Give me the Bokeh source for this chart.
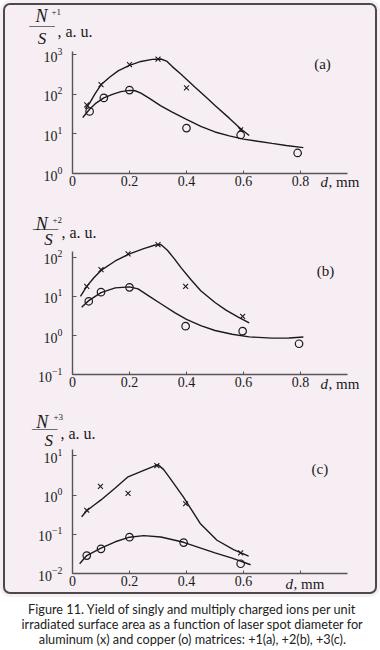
from bokeh.plotting import figure
from bokeh.layouts import column
from bokeh.models import (Label, FixedTicker, LogTickFormatter, Range1d, LinearAxis,
                          LogAxis, LogScale, LinearScale)
from bokeh.embed import file_html
from bokeh.resources import INLINE

# ---------------- data ----------------
x_ticks = [0, 0.2, 0.4, 0.6, 0.8]

# (a) N+1/S
al1_d = [0.05, 0.10, 0.20, 0.30, 0.40, 0.59]
al1_y = [54, 175, 560, 775, 145, 12.6]
cu1_d = [0.06, 0.11, 0.20, 0.40, 0.59, 0.79]
cu1_y = [37, 81, 128, 14, 9.4, 3.3]
al1_fit_d = [0.045, 0.06, 0.08, 0.10, 0.13, 0.16, 0.20, 0.24, 0.28, 0.31, 0.33, 0.35, 0.38, 0.43, 0.47, 0.50, 0.55, 0.59, 0.62]
al1_fit_y = [43, 60, 105, 174, 270, 390, 540, 675, 760, 780, 690, 500, 324, 150, 83, 52, 25, 13.5, 9.1]
cu1_fit_d = [0.036, 0.06, 0.08, 0.11, 0.14, 0.17, 0.20, 0.22, 0.24, 0.27, 0.31, 0.35, 0.40, 0.45, 0.50, 0.55, 0.60, 0.65, 0.70, 0.75, 0.81]
cu1_fit_y = [26, 42, 58, 81, 100, 117, 126, 123, 107, 79, 51, 35.5, 23.4, 15.5, 11.2, 8.9, 7.4, 6.5, 5.75, 5.1, 4.5]

# (b) N+2/S
al2_d = [0.05, 0.10, 0.195, 0.30, 0.397, 0.597]
al2_y = [18, 48, 122, 210, 18, 3.1]
cu2_d = [0.057, 0.10, 0.20, 0.397, 0.597, 0.795]
cu2_y = [7.5, 12.8, 17, 1.74, 1.3, 0.62]
al2_fit_d = [0.028, 0.05, 0.075, 0.10, 0.15, 0.20, 0.25, 0.29, 0.31, 0.333, 0.357, 0.38, 0.415, 0.45, 0.50, 0.54, 0.58, 0.62]
al2_fit_y = [10, 18, 30, 46, 80, 122, 165, 205, 210, 150, 92, 55, 27, 14, 7, 4.4, 3, 2.1]
cu2_fit_d = [0.032, 0.057, 0.10, 0.15, 0.20, 0.23, 0.27, 0.31, 0.36, 0.40, 0.45, 0.50, 0.56, 0.62, 0.70, 0.76, 0.81]
cu2_fit_y = [5.3, 7.8, 12.5, 16.5, 17.5, 15.5, 10, 6.5, 3.8, 2.6, 1.8, 1.35, 1.08, 0.93, 0.86, 0.87, 0.92]

# (c) N+3/S
al3_d = [0.05, 0.098, 0.195, 0.296, 0.397, 0.59]
al3_y = [0.41, 1.65, 1.1, 5.6, 0.6, 0.034]
cu3_d = [0.05, 0.10, 0.20, 0.39, 0.59]
cu3_y = [0.029, 0.043, 0.085, 0.062, 0.018]
al3_fit_d = [0.032, 0.05, 0.075, 0.10, 0.15, 0.195, 0.25, 0.30, 0.32, 0.34, 0.39, 0.448, 0.507, 0.565, 0.618]
al3_fit_y = [0.28, 0.40, 0.55, 0.75, 1.5, 2.9, 4.2, 5.9, 4.4, 2.8, 0.87, 0.19, 0.071, 0.041, 0.028]
cu3_fit_d = [0.025, 0.05, 0.10, 0.15, 0.20, 0.25, 0.31, 0.39, 0.45, 0.50, 0.56, 0.625]
cu3_fit_y = [0.018, 0.029, 0.045, 0.065, 0.085, 0.093, 0.086, 0.063, 0.045, 0.034, 0.025, 0.017]

caption_lines = [
    "Figure 11. Yield of singly and multiply charged ions per unit",
    "irradiated surface area as a function of laser spot diameter for",
    "aluminum (x) and copper (o) matrices: +1(a), +2(b), +3(c).",
]

# ---------------- style / layout ----------------
SERIF = "Liberation Serif"
INK = "#1a1a1a"
AXIS = "#555555"
BG = "#f6eef3"
W = 380
X0 = 72.0        # pixel of d = 0
XPU = 285.0      # pixels per mm
XEND = 0.965     # x axis line end (mm)


def panel(top, h, ax_y, dec_px, ylo_exp, ytop_exp, yticks, al, cu, alf, cuf,
          hide_08, sup, texts):
    """top/h: canvas position of this panel on the page; ax_y: page y of x axis."""
    bottom = top + h
    lo = ylo_exp - (bottom - ax_y) / dec_px
    hi = ylo_exp + (ax_y - top) / dec_px
    p = figure(width=W, height=h,
               x_range=Range1d(-X0 / XPU, (W - X0) / XPU),
               y_range=Range1d(10 ** lo, 10 ** hi),
               x_axis_location=None, y_axis_location=None, output_backend="svg",
               toolbar_location=None, tools="", min_border=0,
               background_fill_alpha=0, border_fill_alpha=0, outline_line_color=None)
    p.x_scale = LinearScale()
    p.y_scale = LogScale()
    p.grid.visible = False
    xa = LinearAxis(fixed_location=10 ** ylo_exp, bounds=(0, XEND))
    ya = LogAxis(fixed_location=0, bounds=(10 ** ylo_exp, 10 ** ytop_exp))
    p.add_layout(xa, "below")
    p.add_layout(ya, "left")
    for ax in (xa, ya):
        ax.axis_line_color = AXIS
        ax.axis_line_width = 1.4
        ax.major_tick_line_color = AXIS
        ax.major_tick_out = 0
        ax.minor_tick_line_color = None
        ax.major_label_text_font = SERIF
        ax.major_label_text_color = INK
    xa.ticker = FixedTicker(ticks=x_ticks)
    xa.major_tick_in = 3
    xa.major_label_standoff = 2
    xa.major_label_text_font_size = "14px"
    ov = {0: "0", 0.2: "0.2", 0.4: "0.4", 0.6: "0.6", 0.8: "0.8"}
    if hide_08:
        ov[0.8] = ""
    xa.major_label_overrides = ov
    ya.ticker = FixedTicker(ticks=yticks)
    ya.formatter = LogTickFormatter()
    ya.major_tick_in = 4
    ya.major_label_standoff = 10
    ya.major_label_text_font_size = "14px"

    p.line(alf[0], alf[1], line_color=INK, line_width=1.4)
    p.line(cuf[0], cuf[1], line_color=INK, line_width=1.4)
    p.scatter(al[0], al[1], marker="x", size=7, line_color=INK, line_width=1.1)
    p.scatter(cu[0], cu[1], marker="circle", size=7.5, fill_color=None,
              line_color=INK, line_width=1.2)

    def lab(px, py, text, size, style="normal", font=SERIF, align="left"):
        p.add_layout(Label(x=px, y=bottom - py, x_units="screen", y_units="screen",
                           text=text, text_font=font, text_font_size=f"{size}px",
                           text_font_style=style, text_align=align,
                           text_baseline="middle", text_color=INK))

    (nx, ny), (spx, spy), (bx, by), (sx, sy), (fx, fy), (tx, ty, tag), (dx, dy) = texts
    lab(nx, ny, "N", 18, "italic", align="center")
    lab(spx, spy, sup, 9)
    lab(bx, by, "──────", 7, font="DejaVu Sans Mono", align="center")
    lab(sx, sy, "S", 17, "italic", align="center")
    lab(fx, fy, ", a. u.", 16)
    lab(tx, ty, tag, 15, align="center")
    lab(dx, dy, "d", 15, "italic")
    lab(dx + 8, dy, ", mm", 15)
    return p


pa = panel(0, 200, 173, 39.6, 0, 3.08, [1, 10, 100, 1000],
           (al1_d, al1_y), (cu1_d, cu1_y), (al1_fit_d, al1_fit_y), (cu1_fit_d, cu1_fit_y),
           False, "+1",
           [(41, 15), (51, 11), (41.5, 26), (41.5, 38.3), (57, 31), (322, 63.3, "(a)"),
            (320, 181)])
pb = panel(200, 200, 374.3, 39.2, -1, 2.15, [0.1, 1, 10, 100],
           (al2_d, al2_y), (cu2_d, cu2_y), (al2_fit_d, al2_fit_y), (cu2_fit_d, cu2_fit_y),
           False, "+2",
           [(41.3, 223.3), (52, 219), (45, 229.3), (48, 239.3), (61, 232),
            (325, 270, "(b)"), (320, 383.3)])
pc = panel(400, 197, 573.3, 39.4, -2, 1.15, [0.01, 0.1, 1, 10],
           (al3_d, al3_y), (cu3_d, cu3_y), (al3_fit_d, al3_fit_y), (cu3_fit_d, cu3_fit_y),
           True, "+3",
           [(41.7, 421.7), (53, 416), (44.2, 429.3), (48.3, 440), (60, 433),
            (319.3, 468.3, "(c)"), (285, 583.3)])

cap = figure(width=W, height=53, x_axis_location=None, y_axis_location=None,
             output_backend="svg", toolbar_location=None, tools="", min_border=0,
             outline_line_color=None, x_range=Range1d(0, 1), y_range=Range1d(0, 1))
cap.grid.visible = False
for i, line in enumerate(caption_lines):
    cap.add_layout(Label(x=192, y=42 - 15 * i, x_units="screen", y_units="screen", text=line,
                         text_font="Lato", text_font_size="12.7px", text_align="center",
                         text_baseline="middle", text_color="#222222"))

box = column(pa, pb, pc, styles={"outline": "2px solid #4a4a4a", "outline-offset": "-5px",
                                 "border-radius": "10px", "background-color": BG})
page = column(box, cap)

open("out.html", "w").write(file_html(page, INLINE))
